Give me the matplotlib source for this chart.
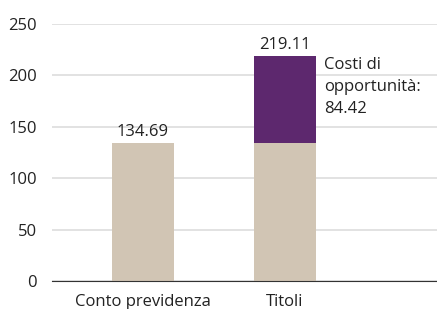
import matplotlib
matplotlib.use("Agg")
from matplotlib import pyplot as plt

categories = ["Conto previdenza", "Titoli"]
base_values = [134.69, 134.69]
extra_values = [0, 84.42]
totals = [134.69, 219.11]
extra_label = "Costi di\nopportunità:\n84.42"

plt.rcParams['font.family'] = ['Open Sans', 'DejaVu Sans']
fs = 12

fig = plt.figure(figsize=(4.37, 3.09), dpi=100)
ax = fig.add_axes([52/437, 28/309, 385/437, 257/309])

x = list(range(len(categories)))
ax.bar(x, base_values, width=0.437, color="#d1c5b4", zorder=2)
ax.bar(x[1], extra_values[1], bottom=base_values[1], width=0.437, color="#5d286e", zorder=2)

for xi, t in zip(x, totals):
    ax.text(xi, t + 2.5, f"{t:.2f}", ha="center", va="bottom", color="#222222", fontsize=fs)
ax.text(x[1] + 0.275, totals[1] - 1.5, extra_label, ha="left", va="top",
        color="#222222", linespacing=1.5, fontsize=fs)

ax.set_xlim(-0.64, 2.07)
ax.set_ylim(0, 250)
ax.set_yticks([0, 50, 100, 150, 200, 250])
ax.set_xticks(x)
ax.set_xticklabels(categories)
ax.grid(axis="y", color="#dddddd", linewidth=1.2, zorder=0)
for s in ["top", "right", "left"]:
    ax.spines[s].set_visible(False)
ax.spines["bottom"].set_color("#333333")
ax.spines["bottom"].set_zorder(3)
ax.tick_params(length=0, colors="#222222", labelsize=fs)
ax.tick_params(axis="y", pad=11)
ax.tick_params(axis="x", pad=9)

fig.savefig("out.png", dpi=100)
